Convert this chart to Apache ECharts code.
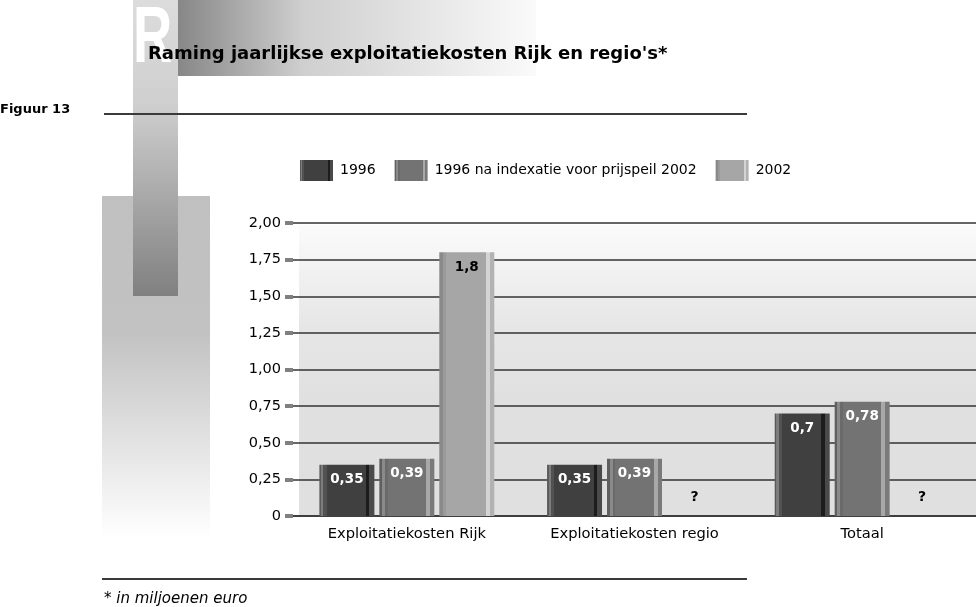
<!DOCTYPE html>
<html>
<head>
<meta charset="utf-8">
<script src="https://cdn.jsdelivr.net/npm/echarts@6/dist/echarts.min.js"></script>
<style>
html,body{margin:0;padding:0;background:#fff;}
#chart{width:976px;height:607px;}
</style>
</head>
<body>
<div id="chart"></div>
<script>
// ---- data ----
var categories = ['Exploitatiekosten Rijk', 'Exploitatiekosten regio', 'Totaal'];
var seriesNames = ['1996', '1996 na indexatie voor prijspeil 2002', '2002'];
var values1996 = [0.35, 0.35, 0.7];
var values1996idx = [0.39, 0.39, 0.78];
var values2002 = [1.8, null, null];
var yTicks = [0, 0.25, 0.5, 0.75, 1.0, 1.25, 1.5, 1.75, 2.0];

var titleText = "Raming jaarlijkse exploitatiekosten Rijk en regio's*";
var figText = 'Figuur 13';
var noteText = '* in miljoenen euro';

var FONT = '"DejaVu Sans", Verdana, sans-serif';
var FONT2 = '"Liberation Sans", Arial, Helvetica, sans-serif';

function stripes(stops) {
  var cs = [];
  stops.forEach(function (s) {
    cs.push({ offset: s[0], color: s[2] });
    cs.push({ offset: s[1], color: s[2] });
  });
  return new echarts.graphic.LinearGradient(0, 0, 1, 0, cs);
}
var colDark = stripes([[0, 0.03, '#5a5a5a'], [0.03, 0.07, '#7c7c7c'], [0.07, 0.13, '#525252'], [0.13, 0.85, '#404040'], [0.85, 0.91, '#1c1c1c'], [0.91, 1, '#4a4a4a']]);
var colMid = stripes([[0, 0.05, '#5f5f5f'], [0.05, 0.1, '#8a8a8a'], [0.1, 0.15, '#6a6a6a'], [0.15, 0.85, '#737373'], [0.85, 0.92, '#a8a8a8'], [0.92, 1, '#7a7a7a']]);
var colLight = stripes([[0, 0.07, '#8a8a8a'], [0.07, 0.13, '#9a9a9a'], [0.13, 0.85, '#a6a6a6'], [0.85, 0.92, '#d4d4d4'], [0.92, 1, '#b2b2b2']]);

function fmt(v) {
  return String(v).replace('.', ',');
}
function mapData(arr) {
  return arr.map(function (v) {
    if (v === null) {
      return { value: 0, label: { show: true, position: 'top', distance: 12, formatter: '?', color: '#000', fontWeight: 'bold', fontSize: 14, fontFamily: FONT } };
    }
    return v;
  });
}

var chart = echarts.init(document.getElementById('chart'), null, { renderer: 'canvas' });

var labelBase = { show: true, position: 'insideTop', distance: 8, fontWeight: 'bold', fontSize: 13.5, fontFamily: FONT, formatter: function (p) { return fmt(p.value); } };

var option = {
  animation: false,
  backgroundColor: '#ffffff',
  graphic: [
    { type: 'rect', z: -10, shape: { x: 102, y: 196, width: 108, height: 342 },
      style: { fill: new echarts.graphic.LinearGradient(0, 0, 0, 1, [
        { offset: 0, color: '#c0c0c0' }, { offset: 0.4, color: '#c2c2c2' }, { offset: 1, color: '#ffffff' }]) } },
    { type: 'rect', z: -10, shape: { x: 178, y: 0, width: 358, height: 76 },
      style: { fill: new echarts.graphic.LinearGradient(0, 0, 1, 0, [
        { offset: 0, color: '#878787' }, { offset: 0.35, color: '#cfcfcf' }, { offset: 1, color: '#fafafa' }]) } },
    { type: 'rect', z: -9, shape: { x: 133, y: 0, width: 45, height: 296 },
      style: { fill: new echarts.graphic.LinearGradient(0, 0, 0, 1, [
        { offset: 0, color: '#dcdcdc' }, { offset: 0.35, color: '#cfcfcf' }, { offset: 1, color: '#808080' }]) } },
    { type: 'text', z: -8, x: 133, y: 40, scaleX: 0.68, style: { x: 0, y: 0, text: 'R', fill: '#ffffff', font: 'bold 80px ' + FONT2, verticalAlign: 'middle' } },
    { type: 'rect', z: -10, shape: { x: 299, y: 225, width: 677, height: 291 },
      style: { fill: new echarts.graphic.LinearGradient(0, 0, 0, 1, [
        { offset: 0, color: '#fbfbfb' }, { offset: 0.35, color: '#e6e6e6' }, { offset: 0.6, color: '#e0e0e0' }, { offset: 1, color: '#e0e0e0' }]) } },
    { type: 'line', z: 5, shape: { x1: 104, y1: 114, x2: 747, y2: 114 }, style: { stroke: '#3a3a3a', lineWidth: 2 } },
    { type: 'line', z: 5, shape: { x1: 102, y1: 579, x2: 747, y2: 579 }, style: { stroke: '#3a3a3a', lineWidth: 2 } },
    { type: 'text', z: 10, style: { x: 148, y: 54, text: titleText, fill: '#000', font: 'bold 18px ' + FONT, verticalAlign: 'middle' } },
    { type: 'text', z: 10, style: { x: 0, y: 110, text: figText, fill: '#000', font: 'bold 13px ' + FONT, verticalAlign: 'middle' } },
    { type: 'text', z: 10, style: { x: 104, y: 599, text: noteText, fill: '#000', font: 'italic 15px ' + FONT, verticalAlign: 'middle' } }
  ],
  legend: {
    left: 295, top: 155, itemWidth: 33, itemHeight: 21, itemGap: 19,
    icon: 'rect',
    data: seriesNames,
    textStyle: { fontSize: 14, color: '#000', fontFamily: FONT, padding: [0, 0, 0, 2] }
  },
  grid: { left: 293, right: 0, top: 223, bottom: 91, containLabel: false },
  xAxis: {
    type: 'category', data: categories,
    axisLine: { show: true, lineStyle: { color: '#333', width: 1.5 } },
    axisTick: { show: false },
    axisLabel: { color: '#000', fontSize: 14.7, fontFamily: FONT, margin: 11 },
    splitLine: { show: false }
  },
  yAxis: {
    type: 'value', min: 0, max: 2, interval: 0.25,
    axisLine: { show: false },
    axisTick: { show: true, length: 8, lineStyle: { color: '#808080', width: 4 } },
    axisLabel: { color: '#000', fontSize: 14.5, fontFamily: FONT, margin: 12,
      formatter: function (v) { return v === 0 ? '0' : v.toFixed(2).replace('.', ','); } },
    splitLine: { show: true, lineStyle: { color: '#333', width: 1.5 } }
  },
  series: [
    { name: seriesNames[0], type: 'bar', data: mapData(values1996), barWidth: 55, barGap: '9%',
      itemStyle: { color: colDark }, label: Object.assign({}, labelBase, { color: '#fff' }) },
    { name: seriesNames[1], type: 'bar', data: mapData(values1996idx), barWidth: 55, barGap: '9%',
      itemStyle: { color: colMid }, label: Object.assign({}, labelBase, { color: '#fff' }) },
    { name: seriesNames[2], type: 'bar', data: mapData(values2002), barWidth: 55, barGap: '9%',
      itemStyle: { color: colLight }, label: Object.assign({}, labelBase, { color: '#000' }) }
  ]
};
chart.setOption(option);
</script>
</body>
</html>
